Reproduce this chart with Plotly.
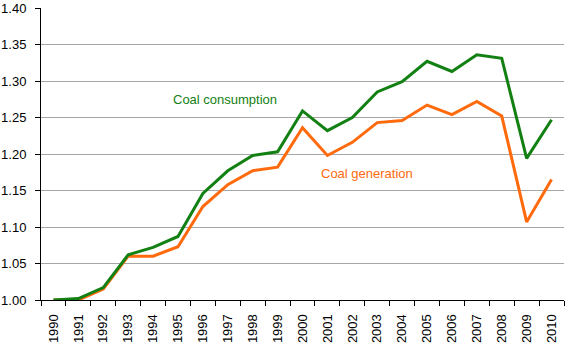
import plotly.graph_objects as go

years = [str(y) for y in range(1990, 2011)]
coal_consumption = [1.000, 1.002, 1.017, 1.062, 1.072, 1.087, 1.146, 1.177, 1.198, 1.203,
                    1.259, 1.232, 1.250, 1.285, 1.299, 1.327, 1.313, 1.336, 1.331, 1.194, 1.247]
coal_generation = [1.000, 1.000, 1.015, 1.060, 1.060, 1.073, 1.128, 1.158, 1.177, 1.182,
                   1.236, 1.198, 1.216, 1.243, 1.246, 1.267, 1.254, 1.272, 1.252, 1.107, 1.165]
y_ticks = [1.00, 1.05, 1.10, 1.15, 1.20, 1.25, 1.30, 1.35, 1.40]

green = "#138013"
orange = "#FF6A0D"

fig = go.Figure()
fig.add_trace(go.Scatter(x=years, y=coal_generation, mode="lines",
                         line=dict(color=orange, width=3), name="Coal generation"))
fig.add_trace(go.Scatter(x=years, y=coal_consumption, mode="lines",
                         line=dict(color=green, width=3), name="Coal consumption"))

# series labels placed inside the plot (positions in category-index units)
fig.add_annotation(x=6.9, y=1.274, text="Coal consumption", showarrow=False,
                   xanchor="center", yanchor="middle", font=dict(color=green, size=13))
fig.add_annotation(x=12.6, y=1.173, text="Coal generation", showarrow=False,
                   xanchor="center", yanchor="middle", font=dict(color=orange, size=13))

fig.update_layout(
    width=569, height=345,
    margin=dict(l=41, r=5, t=8, b=45),
    paper_bgcolor="white", plot_bgcolor="white",
    showlegend=False,
    font=dict(family="Liberation Sans, Arial", size=13, color="black"),
)
fig.update_xaxes(
    type="category", tickangle=-90, tickson="boundaries",
    ticks="outside", ticklen=5, tickcolor="black",
    showline=True, linecolor="black", linewidth=1,
    showgrid=False, range=[-0.5, 20.5], automargin=False,
    tickfont=dict(size=13), ticklabelstandoff=8,
)
fig.update_yaxes(
    range=[1.0, 1.4], tickvals=y_ticks, tickformat=".2f",
    ticks="outside", ticklen=5, tickcolor="black",
    showline=True, linecolor="black", linewidth=1,
    showgrid=True, gridcolor="#a6a6a6", gridwidth=1, automargin=False,
    zeroline=False, tickfont=dict(size=13), ticklabelstandoff=6,
)

fig.write_html("out.html")
